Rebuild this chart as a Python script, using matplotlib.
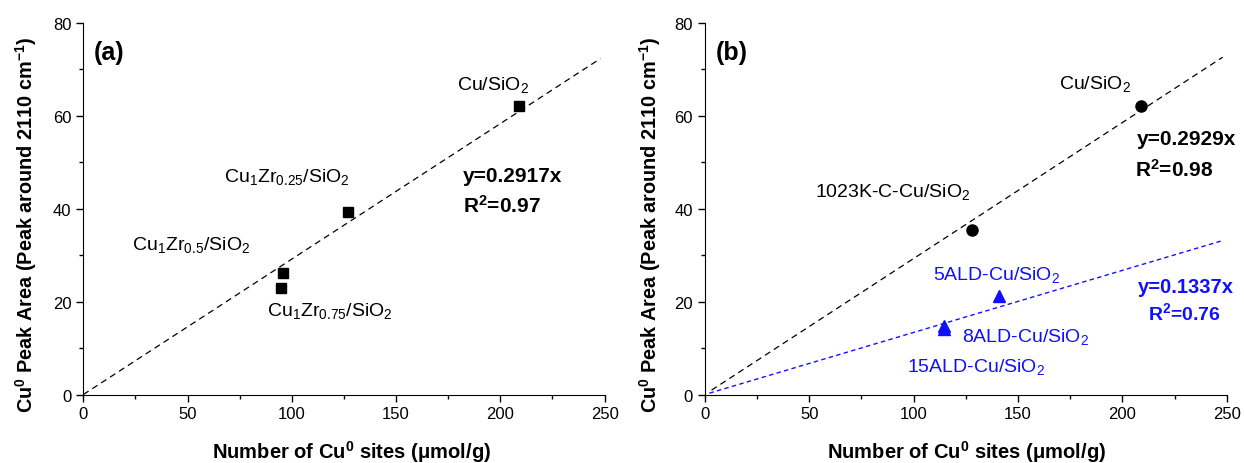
import matplotlib
matplotlib.use("Agg")
import matplotlib.pyplot as plt
import numpy as np
from matplotlib.ticker import MultipleLocator

plt.rcParams['font.family'] = ['Liberation Sans', 'DejaVu Sans']
plt.rcParams['mathtext.fontset'] = 'custom'
plt.rcParams['mathtext.rm'] = 'Liberation Sans'
plt.rcParams['mathtext.it'] = 'Liberation Sans:italic'
plt.rcParams['mathtext.bf'] = 'Liberation Sans:bold'

# Panel (a) data
a_labels = [r'Cu/SiO$_2$', r'Cu$_1$Zr$_{0.25}$/SiO$_2$', r'Cu$_1$Zr$_{0.5}$/SiO$_2$', r'Cu$_1$Zr$_{0.75}$/SiO$_2$']
a_x = [209, 127, 95.7, 94.9]
a_y = [62.1, 39.4, 26.1, 22.9]
a_slope = 0.2917
a_r2 = 0.97

# Panel (b) data
b_black_labels = [r'Cu/SiO$_2$', r'1023K-C-Cu/SiO$_2$']
b_black_x = [208.7, 127.8]
b_black_y = [62.1, 35.4]
b_black_slope = 0.2929
b_black_r2 = 0.98
b_blue_labels = [r'5ALD-Cu/SiO$_2$', r'8ALD-Cu/SiO$_2$', r'15ALD-Cu/SiO$_2$']
b_blue_x = [140.9, 114.6, 114.6]
b_blue_y = [21.2, 14.8, 14.1]
b_blue_slope = 0.1337
b_blue_r2 = 0.76

xticks = [0, 50, 100, 150, 200, 250]
yticks = [0, 20, 40, 60, 80]

fig = plt.figure(figsize=(12.44, 4.64), dpi=100)
axA = fig.add_axes([0.0670, 0.1476, 0.4190, 0.8006])
axB = fig.add_axes([0.5666, 0.1476, 0.4196, 0.8006])

blue = '#1010ff'
lab_fs = 14
eq_fs = 15

def style(ax, xl_x, yl_x):
    ax.set_xlim(0, 250)
    ax.set_ylim(0, 80)
    ax.set_xticks(xticks)
    ax.set_yticks(yticks)
    ax.xaxis.set_minor_locator(MultipleLocator(25))
    ax.yaxis.set_minor_locator(MultipleLocator(10))
    ax.spines['top'].set_visible(False)
    ax.spines['right'].set_visible(False)
    ax.tick_params(which='major', direction='out', length=5, width=1, labelsize=12)
    ax.tick_params(which='minor', direction='out', length=3, width=1)
    ax.set_xlabel(r'Number of Cu$^\mathbf{0}$ sites ($\mathbf{\mu}$mol/g)', fontsize=14.5, fontweight='bold')
    ax.set_ylabel(r'Cu$^\mathbf{0}$ Peak Area (Peak around 2110 cm$^\mathbf{-1}$)', fontsize=14.3, fontweight='bold')
    ax.xaxis.label.set_va('baseline')
    ax.xaxis.set_label_coords(xl_x, -0.171)
    ax.yaxis.set_label_coords(yl_x, 0.459)

style(axA, 0.514, -0.086)
style(axB, 0.502, -0.081)

# Panel (a)
xf = np.array([0, 248])
axA.plot(xf, a_slope * xf, color='black', lw=0.9, dashes=(5, 3.5))
axA.plot(a_x, a_y, 's', color='black', ms=6.8)
axA.text(5.1, 72.2, '(a)', fontsize=18, fontweight='bold', va='baseline')
a_pos = [(179.2, 65.7), (67.5, 45.9), (23.5, 31.3), (88, 17.2)]
for lab, (tx, ty) in zip(a_labels, a_pos):
    axA.text(tx, ty, lab, fontsize=lab_fs, va='baseline')
axA.text(182, 46.0, 'y=%.4fx' % a_slope, fontsize=eq_fs, fontweight='bold', va='baseline')
axA.text(182, 39.3, r'R$^\mathbf{2}$=%.2f' % a_r2, fontsize=eq_fs, fontweight='bold', va='baseline')

# Panel (b)
xbk = np.array([3.2, 248])
xbl = np.array([2.2, 248])
axB.plot(xbk, b_black_slope * xbk, color='black', lw=0.9, dashes=(5, 3.5))
axB.plot(xbl, b_blue_slope * xbl, color=blue, lw=1.0, dashes=(3.2, 2.4))
axB.plot(b_black_x, b_black_y, 'o', color='black', ms=8)
axB.plot(b_blue_x, b_blue_y, '^', color=blue, ms=8.5)
axB.text(5.1, 72.2, '(b)', fontsize=18, fontweight='bold', va='baseline')
bk_pos = [(169.6, 66.1), (52.8, 42.7)]
for lab, (tx, ty) in zip(b_black_labels, bk_pos):
    axB.text(tx, ty, lab, fontsize=lab_fs, va='baseline')
bl_pos = [(109.4, 24.9), (123, 11.5), (96.7, 5.1)]
for lab, (tx, ty) in zip(b_blue_labels, bl_pos):
    axB.text(tx, ty, lab, fontsize=lab_fs, va='baseline', color=blue)
axB.text(206.7, 53.9, 'y=%.4fx' % b_black_slope, fontsize=eq_fs, fontweight='bold', va='baseline')
axB.text(206.2, 47.0, r'R$^\mathbf{2}$=%.2f' % b_black_r2, fontsize=eq_fs, fontweight='bold', va='baseline')
axB.text(207.4, 22.1, 'y=%.4fx' % b_blue_slope, fontsize=14.5, fontweight='bold', va='baseline', color=blue)
axB.text(212.2, 16.3, r'R$^\mathbf{2}$=%.2f' % b_blue_r2, fontsize=14, fontweight='bold', va='baseline', color=blue)

fig.savefig('out.png', dpi=100)
